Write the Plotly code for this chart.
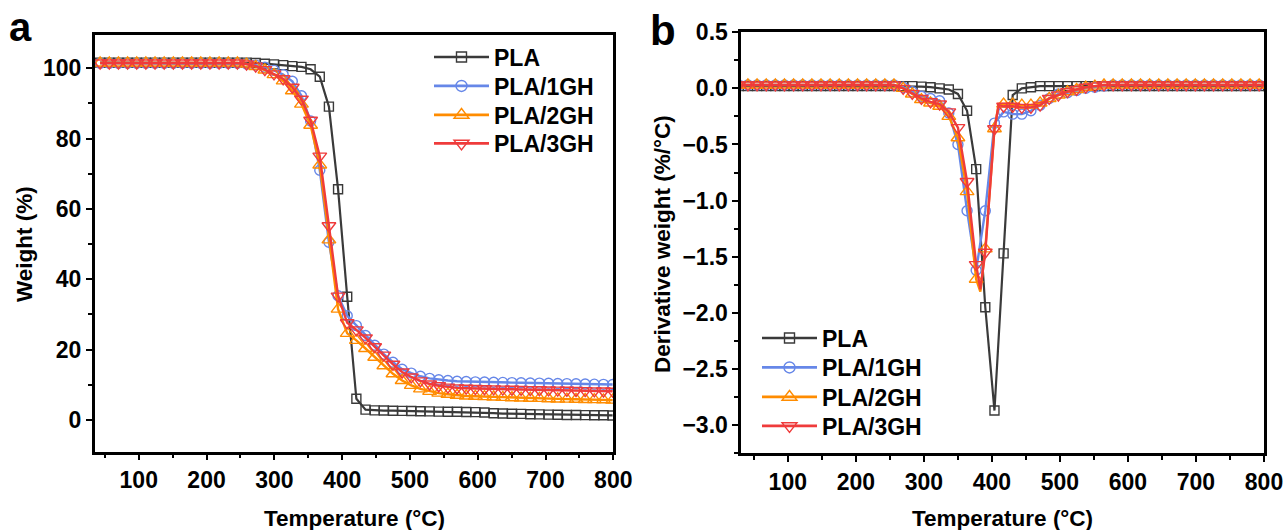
import plotly.graph_objects as go

# ---------------- data ----------------
NAMES = ["PLA", "PLA/1GH", "PLA/2GH", "PLA/3GH"]
COLORS = ["#3a3a3a", "#6687e8", "#ff8c00", "#ef3b3b"]
SYMBOLS = ["square-open", "circle-open", "triangle-up-open", "triangle-down-open"]

X_TICK_STEP = 100

# panel a : TGA weight (%)
TEMP_A = [43, 56.5, 70, 83.5, 97, 110.5, 124, 137.5, 151, 164.5, 178, 191.5, 205, 218.5,
          232, 245.5, 259, 272.5, 286, 299.5, 313, 326.5, 340, 353.5, 367, 380.5, 394,
          407.5, 421, 434.5, 448, 461.5, 475, 488.5, 502, 515.5, 529, 542.5, 556, 569.5,
          583, 596.5, 610, 623.5, 637, 650.5, 664, 677.5, 691, 704.5, 718, 731.5, 745,
          758.5, 772, 785.5, 799]
PLA_A = [101.6, 101.6, 101.6, 101.6, 101.6, 101.6, 101.6, 101.6, 101.6, 101.6, 101.6,
         101.6, 101.6, 101.6, 101.6, 101.6, 101.6,
         101.5, 101.3, 101.1, 100.9, 100.6, 100.4, 99.7, 97.6, 89.1, 65.6, 35.0, 6.0, 2.9,
         2.7, 2.65, 2.6, 2.55, 2.5, 2.45, 2.4, 2.35, 2.3, 2.3, 2.25, 2.2, 2.1, 1.9, 1.8,
         1.75, 1.7, 1.6, 1.55, 1.5, 1.45, 1.4, 1.4, 1.35, 1.3, 1.3, 1.25]
GH1_A = [101.4, 101.4, 101.4, 101.4, 101.4, 101.4, 101.4, 101.4, 101.4, 101.4, 101.4,
         101.4, 101.4, 101.4, 101.4, 101.4,
         101.2, 100.9, 100.3, 99.4, 98.2, 96.3, 92.2, 85.0, 71.0, 50.5, 35.3, 29.6, 26.8, 24.0,
         21.2, 18.7, 16.4, 14.4, 13.3, 12.4, 11.8, 11.4, 11.2, 11.0, 10.9, 10.8, 10.75, 10.7,
         10.65, 10.6, 10.55, 10.5, 10.45, 10.4, 10.35, 10.3, 10.25, 10.2, 10.15, 10.1, 10.05]
GH2_A = [101.5, 101.5, 101.5, 101.5, 101.5, 101.5, 101.5, 101.5, 101.5, 101.5, 101.5,
         101.5, 101.5, 101.5, 101.5, 101.5,
         101.2, 100.5, 99.5, 98.2, 96.4, 93.6, 89.8, 83.8, 72.5, 51.2, 31.5, 24.6, 22.6, 20.3,
         17.8, 15.4, 13.1, 11.2, 9.8, 8.8, 8.1, 7.6, 7.3, 7.0, 6.8, 6.7, 6.6, 6.5, 6.4, 6.3,
         6.2, 6.15, 6.1, 6.0, 5.95, 5.9, 5.85, 5.8, 5.75, 5.7, 5.6]
GH3_A = [101.5, 101.5, 101.5, 101.5, 101.5, 101.5, 101.5, 101.5, 101.5, 101.5, 101.5,
         101.5, 101.5, 101.5, 101.5, 101.5,
         101.2, 100.6, 99.6, 98.4, 97.0, 94.6, 91.2, 85.2, 75.0, 55.2, 35.2, 27.6, 25.6, 23.3,
         20.8, 18.4, 15.8, 13.6, 12.2, 11.1, 10.2, 9.7, 9.3, 9.1, 9.0, 8.9, 8.85, 8.8, 8.75,
         8.7, 8.65, 8.6, 8.55, 8.5, 8.45, 8.4, 8.35, 8.3, 8.25, 8.2, 8.15]

# panel b : DTG derivative weight (%/°C)
TEMP_B = [28, 41.4, 54.8, 68.3, 81.7, 95.1, 108.5, 121.9, 135.4, 148.8, 162.2, 175.6, 189,
          202.5, 215.9, 229.3, 242.7, 256.1, 269.6, 283, 296.4, 309.8, 323.2, 336.7, 350.1,
          363.5, 376.9, 390.3, 403.8, 417.2, 430.6, 444, 457.4, 470.9, 484.3, 497.7, 511.1,
          524.5, 538, 551.4, 564.8, 578.2, 591.6, 605.1, 618.5, 631.9, 645.3, 658.7, 672.2,
          685.6, 699, 712.4, 725.8, 739.3, 752.7, 766.1, 779.5, 792.9, 806.3]
PLA_B = [0.02, 0.02, 0.02, 0.02, 0.02, 0.02, 0.02, 0.02, 0.02, 0.02, 0.02, 0.02, 0.02,
         0.02, 0.02, 0.02, 0.02, 0.02, 0.02, 0.02,
         0.015, 0.01, 0.0, -0.01, -0.05, -0.2, -0.72, -1.95, -2.87, -1.47, -0.06, 0.0, 0.01,
         0.02, 0.02, 0.02, 0.02, 0.02, 0.02, 0.02, 0.02, 0.02, 0.02, 0.02, 0.02, 0.02,
         0.02, 0.02, 0.02, 0.02, 0.02, 0.02, 0.02, 0.02, 0.02, 0.02, 0.02, 0.02, 0.02]
GH1_B = [0.03, 0.03, 0.03, 0.03, 0.03, 0.03, 0.03, 0.03, 0.03, 0.03, 0.03, 0.03, 0.03,
         0.03, 0.03, 0.03, 0.03, 0.03,
         0.01, -0.03, -0.07, -0.09, -0.11, -0.22, -0.5, -1.09, -1.62, -1.09, -0.31, -0.21,
         -0.23, -0.23, -0.2, -0.15, -0.09, -0.05, -0.04, -0.02, 0.0, 0.01, 0.02,
         0.03, 0.03, 0.03, 0.03, 0.03, 0.03, 0.03, 0.03, 0.03, 0.03, 0.03, 0.03, 0.03,
         0.03, 0.03, 0.03, 0.03, 0.03]
GH2_B = [0.03, 0.03, 0.03, 0.03, 0.03, 0.03, 0.03, 0.03, 0.03, 0.03, 0.03, 0.03, 0.03,
         0.03, 0.03, 0.03, 0.03, 0.03,
         0.0, -0.05, -0.1, -0.13, -0.16, -0.25, -0.44, -0.92, -1.70, -1.43, -0.36, -0.14,
         -0.14, -0.15, -0.15, -0.13, -0.09, -0.06, -0.03, -0.01, 0.01, 0.02,
         0.03, 0.03, 0.03, 0.03, 0.03, 0.03, 0.03, 0.03, 0.03, 0.03, 0.03, 0.03, 0.03,
         0.03, 0.03, 0.03, 0.03, 0.03, 0.03]
GH3_B = [0.03, 0.03, 0.03, 0.03, 0.03, 0.03, 0.03, 0.03, 0.03, 0.03, 0.03, 0.03, 0.03,
         0.03, 0.03, 0.03, 0.03, 0.03,
         0.0, -0.045, -0.09, -0.12, -0.14, -0.21, -0.35, -0.83, -1.57, -1.46, -0.36, -0.16,
         -0.16, -0.17, -0.17, -0.15, -0.09, -0.06, -0.03, -0.01, 0.01, 0.02,
         0.03, 0.03, 0.03, 0.03, 0.03, 0.03, 0.03, 0.03, 0.03, 0.03, 0.03, 0.03, 0.03,
         0.03, 0.03, 0.03, 0.03, 0.03, 0.03]

# extra line-only points (curve between markers near the DTG peaks)
PEAK_T_B = [[], [], [383, 410], [383, 410]]
PEAK_V_B = [[], [], [-1.81, -0.14], [-1.79, -0.15]]

SERIES_A = [PLA_A, GH1_A, GH2_A, GH3_A]
SERIES_B = [PLA_B, GH1_B, GH2_B, GH3_B]
for s in SERIES_A:
    assert len(s) == len(TEMP_A)
for s in SERIES_B:
    assert len(s) == len(TEMP_B)

# ---------------- figure ----------------
W, H = 1283, 530
FONT = "Liberation Sans"


def px_x(p):
    return p / W


def px_y(p):
    return 1 - p / H


fig = go.Figure()

LW = [2.2, 2.4, 2.4, 2.4]
MS = [9, 10, 12, 12]
LEG_A = ["legend", "legend2", "legend3", "legend4"]
LEG_B = ["legend5", "legend6", "legend7", "legend8"]


def legend_trace(i, leg, xa, ya):
    return go.Scatter(x=[None], y=[None], mode="lines+markers", name=NAMES[i],
                      line=dict(color=COLORS[i], width=LW[i] + 0.4),
                      marker=dict(symbol=SYMBOLS[i], size=MS[i] + 1, color=COLORS[i],
                                  line=dict(width=1.4, color=COLORS[i])),
                      legend=leg, xaxis=xa, yaxis=ya)


for i in range(4):
    fig.add_trace(go.Scatter(x=TEMP_A, y=SERIES_A[i], mode="lines+markers",
                             line=dict(color=COLORS[i], width=LW[i]),
                             marker=dict(symbol=SYMBOLS[i], size=MS[i], color=COLORS[i],
                                         line=dict(width=1.4, color=COLORS[i])),
                             showlegend=False, xaxis="x", yaxis="y", hoverinfo="skip"))
    fig.add_trace(legend_trace(i, LEG_A[i], "x", "y"))

for i in range(4):
    pts = sorted(zip(TEMP_B + PEAK_T_B[i], SERIES_B[i] + PEAK_V_B[i]))
    fig.add_trace(go.Scatter(x=[p[0] for p in pts], y=[p[1] for p in pts], mode="lines",
                             line=dict(color=COLORS[i], width=LW[i]),
                             showlegend=False, xaxis="x2", yaxis="y2", hoverinfo="skip"))
    fig.add_trace(go.Scatter(x=TEMP_B, y=SERIES_B[i], mode="markers",
                             marker=dict(symbol=SYMBOLS[i], size=MS[i], color=COLORS[i],
                                         line=dict(width=1.4, color=COLORS[i])),
                             showlegend=False, xaxis="x2", yaxis="y2", hoverinfo="skip"))
    fig.add_trace(legend_trace(i, LEG_B[i], "x2", "y2"))

tickfont = dict(family=FONT, size=23, color="black", weight="bold")
axis_common = dict(showline=True, linewidth=2.5, linecolor="black", mirror=True,
                   ticks="outside", ticklen=6, tickwidth=2, tickcolor="black",
                   showgrid=False, zeroline=False, tickfont=tickfont,
                   automargin=False, ticklabeloverflow="allow")


def minor(d):
    return dict(dtick=d, ticks="outside", ticklen=4, tickwidth=2, tickcolor="black")


legend_font = dict(family=FONT, size=23, color="black", weight="bold")


def legend_box(xp, yp):
    return dict(x=px_x(xp), y=px_y(yp), xanchor="left", yanchor="middle",
                font=legend_font, bgcolor="rgba(0,0,0,0)", itemwidth=55,
                borderwidth=0)


LEG_A_Y = [57, 86, 115, 143.5]
LEG_B_Y = [338, 367.5, 397, 426]
legends = {}
for name, yp in zip(LEG_A, LEG_A_Y):
    legends[name] = legend_box(429, yp)
for name, yp in zip(LEG_B, LEG_B_Y):
    legends[name] = legend_box(757, yp)

fig.update_layout(
    width=W, height=H, margin=dict(l=0, r=0, t=0, b=0, autoexpand=False),
    paper_bgcolor="white", plot_bgcolor="white",
    xaxis=dict(domain=[px_x(94.7), px_x(613.3)], range=[35, 800], anchor="y",
               tickmode="linear", tick0=0, dtick=X_TICK_STEP,
               minor=minor(X_TICK_STEP / 2), **axis_common),
    yaxis=dict(domain=[px_y(451.5), px_y(35.2)], range=[-9.0, 109.4], anchor="x",
               tickmode="linear", tick0=0, dtick=20, minor=minor(10), **axis_common),
    xaxis2=dict(domain=[px_x(741.2), px_x(1264)], range=[31.5, 800], anchor="y2",
                tickmode="linear", tick0=0, dtick=X_TICK_STEP,
                minor=minor(X_TICK_STEP / 2), **axis_common),
    yaxis2=dict(domain=[px_y(453.2), px_y(32.2)], range=[-3.25, 0.5], anchor="x2",
                tickmode="linear", tick0=0, dtick=0.5, tickformat=".1f",
                minor=minor(0.25), **axis_common),
    **legends,
)

title_font = dict(family=FONT, size=22.5, color="black", weight="bold")
ann = [
    dict(text="Temperature (°C)", x=px_x(354), y=px_y(518), xref="paper", yref="paper",
         showarrow=False, xanchor="center", yanchor="middle", font=title_font),
    dict(text="Temperature (°C)", x=px_x(1002), y=px_y(518), xref="paper", yref="paper",
         showarrow=False, xanchor="center", yanchor="middle", font=title_font),
    dict(text="Weight (%)", x=px_x(24), y=px_y(244), xref="paper", yref="paper",
         showarrow=False, xanchor="center", yanchor="middle", textangle=-90, font=title_font),
    dict(text="Derivative weight (%/°C)", x=px_x(662), y=px_y(244), xref="paper",
         yref="paper", showarrow=False, xanchor="center", yanchor="middle", textangle=-90,
         font=title_font),
    dict(text="a", x=px_x(20), y=px_y(27), xref="paper", yref="paper", showarrow=False,
         xanchor="center", yanchor="middle",
         font=dict(family=FONT, size=40, color="black", weight="bold")),
    dict(text="b", x=px_x(663), y=px_y(31), xref="paper", yref="paper", showarrow=False,
         xanchor="center", yanchor="middle",
         font=dict(family=FONT, size=42, color="black", weight="bold")),
]
fig.update_layout(annotations=ann)

fig.write_html("out.html", config={"displayModeBar": False},
               post_script="document.body.style.margin='0';")
